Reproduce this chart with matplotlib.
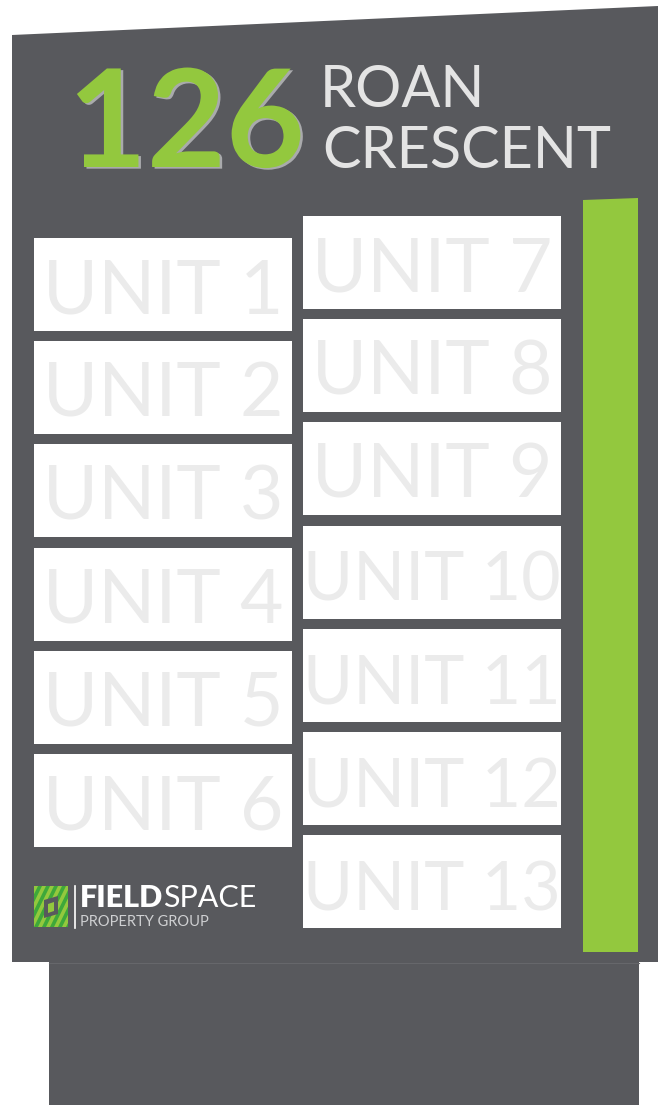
import matplotlib
matplotlib.use("Agg")
import matplotlib.pyplot as plt
from matplotlib.patches import Rectangle, Polygon
import matplotlib.patheffects as pe

# ---- content ----
left_units = ["UNIT 1", "UNIT 2", "UNIT 3", "UNIT 4", "UNIT 5", "UNIT 6"]
right_units = ["UNIT 7", "UNIT 8", "UNIT 9", "UNIT 10", "UNIT 11", "UNIT 12", "UNIT 13"]
street_number = "126"
street_name = ["ROAN", "CRESCENT"]
brand_bold = "FIELD"
brand_light = "SPACE"
brand_sub = "PROPERTY GROUP"

# ---- colours ----
DARK = "#58595d"
GREEN = "#93c83e"
DKGREEN = "#3ea83a"
UNIT_TXT = "#ebebeb"

fig = plt.figure(figsize=(6.58, 11.06), dpi=100)
ax = fig.add_axes([0, 0, 1, 1])
ax.set_xlim(0, 658)
ax.set_ylim(1106, 0)
ax.axis("off")

# main panel (slanted top)
ax.add_patch(Polygon([(12, 35), (658, 6), (658, 962), (12, 962)], closed=True,
                     facecolor=DARK, edgecolor="none"))
# pedestal
ax.add_patch(Rectangle((49, 962), 590, 143, facecolor=DARK, edgecolor="none"))
ax.plot([49, 639], [962.5, 962.5], color="#66676b", lw=0.8)

# green bar
ax.add_patch(Polygon([(583, 200), (638, 198), (638, 952), (583, 952)], closed=True,
                     facecolor=GREEN, edgecolor="none"))

# unit boxes
def draw_column(labels, x0, top0, w=258, h=93, step=103.2):
    for i, lab in enumerate(labels):
        top = top0 + i * step
        r = Rectangle((x0, top), w, h, facecolor="white", edgecolor="none")
        ax.add_patch(r)
        size = 54 if len(lab) <= 6 else 49
        t = ax.text(x0 + w / 2, top + 75, lab, ha="center", va="baseline",
                    fontsize=size, family="Lato", fontweight="normal", color=UNIT_TXT,
                    clip_on=True)
        t.set_clip_path(r)

draw_column(left_units, 34, 238)
draw_column(right_units, 303, 216)

# title
ax.text(68, 167, street_number, ha="left", va="baseline", fontsize=98,
        family="Lato", fontweight="bold", color=GREEN,
        path_effects=[pe.SimplePatchShadow(offset=(1.8, -1.2), shadow_rgbFace="#a9aaac", alpha=1.0),
                      pe.Normal()])
ax.text(320, 107, street_name[0], ha="left", va="baseline", fontsize=41.5,
        family="Lato", fontweight="normal", color="#e4e4e4")
ax.text(322, 168, street_name[1], ha="left", va="baseline", fontsize=41.5,
        family="Lato", fontweight="normal", color="#e4e4e4")

# logo icon
sq = Rectangle((34, 886), 34, 41, facecolor=GREEN, edgecolor="none")
ax.add_patch(sq)
for k in range(-6, 8):
    x = 34 + k * 8
    p = Polygon([(x, 927), (x + 4, 927), (x + 4 + 20, 886), (x + 20, 886)],
                closed=True, facecolor=DKGREEN, edgecolor="none")
    ax.add_patch(p)
    p.set_clip_path(sq)
ax.add_patch(Polygon([(44, 900), (58, 896), (58, 914), (44, 918)], closed=True,
                     facecolor=DARK, edgecolor="none"))
ax.add_patch(Polygon([(48, 904), (54, 902), (54, 911), (48, 913)], closed=True,
                     facecolor=GREEN, edgecolor="none"))
ax.plot([75, 75], [886, 928], color="white", lw=1.2)

# brand text
tb = ax.text(80, 907, brand_bold, ha="left", va="baseline", fontsize=22,
             family="Lato", fontweight="heavy", color="white")
fig.canvas.draw()
bb = tb.get_window_extent()
x_end = ax.transData.inverted().transform((bb.x1, bb.y0))[0]
ax.text(x_end, 907, brand_light, ha="left", va="baseline", fontsize=22,
        family="Lato", fontweight="normal", color="white")
ax.text(80, 926, brand_sub, ha="left", va="baseline", fontsize=10.5,
        family="Lato", fontweight="normal", color="#cfd0d2")

fig.savefig("out.png", dpi=100, facecolor="white")
